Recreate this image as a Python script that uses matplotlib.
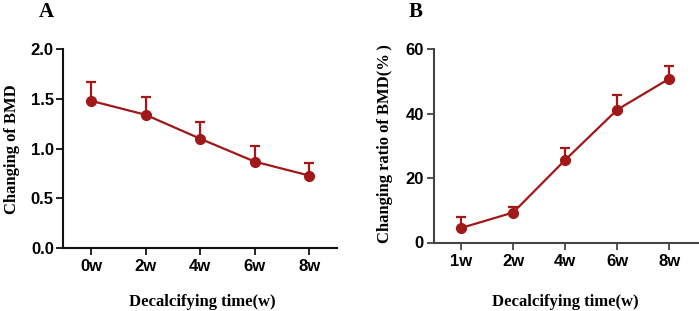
import matplotlib
matplotlib.use("Agg")
import matplotlib.pyplot as plt

cats_a = ["0w", "2w", "4w", "6w", "8w"]
vals_a = [1.48, 1.34, 1.10, 0.87, 0.73]
err_a = [0.19, 0.18, 0.17, 0.155, 0.125]

cats_b = ["1w", "2w", "4w", "6w", "8w"]
vals_b = [4.5, 9.3, 25.6, 41.2, 50.8]
err_b = [3.5, 1.6, 3.8, 4.4, 3.9]

W, H = 699, 311
fig = plt.figure(figsize=(W / 100, H / 100), dpi=100)
red = "#A01818"

tick_font = dict(family="Liberation Sans", weight="bold", size=12)
lab_font = dict(family="Liberation Serif", weight="bold", size=12)


def make(ax, cats, vals, errs, axcol, ylim, yticks, yfmt, ylabel, xlim,
         ylab_xy, xlab_xy):
    x = list(range(len(cats)))
    ax.errorbar(x, vals, yerr=[[0] * len(errs), errs], color=red, lw=1.6,
                marker="o", ms=7, capsize=3.5, elinewidth=1.6, capthick=1.6,
                clip_on=False, zorder=3)
    ax.set_xlim(*xlim)
    ax.set_ylim(*ylim)
    ax.set_xticks(x)
    ax.set_xticklabels(cats)
    ax.set_yticks(yticks)
    ax.set_yticklabels([yfmt.format(v) for v in yticks])
    for lbl in ax.get_xticklabels() + ax.get_yticklabels():
        lbl.set_fontfamily(tick_font["family"])
        lbl.set_fontweight("bold")
        lbl.set_fontsize(tick_font["size"])
    for s in ["top", "right"]:
        ax.spines[s].set_visible(False)
    for s in ["left", "bottom"]:
        ax.spines[s].set_color(axcol)
        ax.spines[s].set_linewidth(1.5)
    ax.tick_params(axis="both", length=5, width=1.3, color=axcol, pad=2)
    ax.tick_params(axis="x", pad=3)
    ax.set_ylabel(ylabel, fontdict=lab_font)
    ax.set_xlabel("Decalcifying time(w)", fontdict=lab_font)
    ax.yaxis.set_label_coords(*ylab_xy)
    ax.xaxis.set_label_coords(*xlab_xy)
    ax.yaxis.label.set_va("center")
    ax.xaxis.label.set_va("center")
    ax.patch.set_alpha(0)


axA = fig.add_axes([63.5 / W, (H - 248.3) / H, (337 - 63.5) / W, (248.3 - 49) / H])
make(axA, cats_a, vals_a, err_a, "#111111", (0, 2.0), [0.0, 0.5, 1.0, 1.5, 2.0],
     "{:.1f}", "Changing of BMD", (-0.505, 4.51), (-0.188, 0.5), (0.506, -0.269))

axB = fig.add_axes([433.5 / W, (H - 242.5) / H, (699 - 433.5) / W, (242.5 - 49) / H])
make(axB, cats_b, vals_b, err_b, "#444444", (0, 60), [0, 20, 40, 60],
     "{:d}", "Changing ratio of BMD(%\u2009)", (-0.53, 4.57), (-0.183, 0.51),
     (0.495, -0.307))

fig.text(46 / W, 1 - 12 / H, "A", family="Liberation Serif", weight="bold", size=15,
         ha="center", va="center")
fig.text(416 / W, 1 - 12 / H, "B", family="Liberation Serif", weight="bold", size=15,
         ha="center", va="center")

fig.savefig("out.png", dpi=100)
